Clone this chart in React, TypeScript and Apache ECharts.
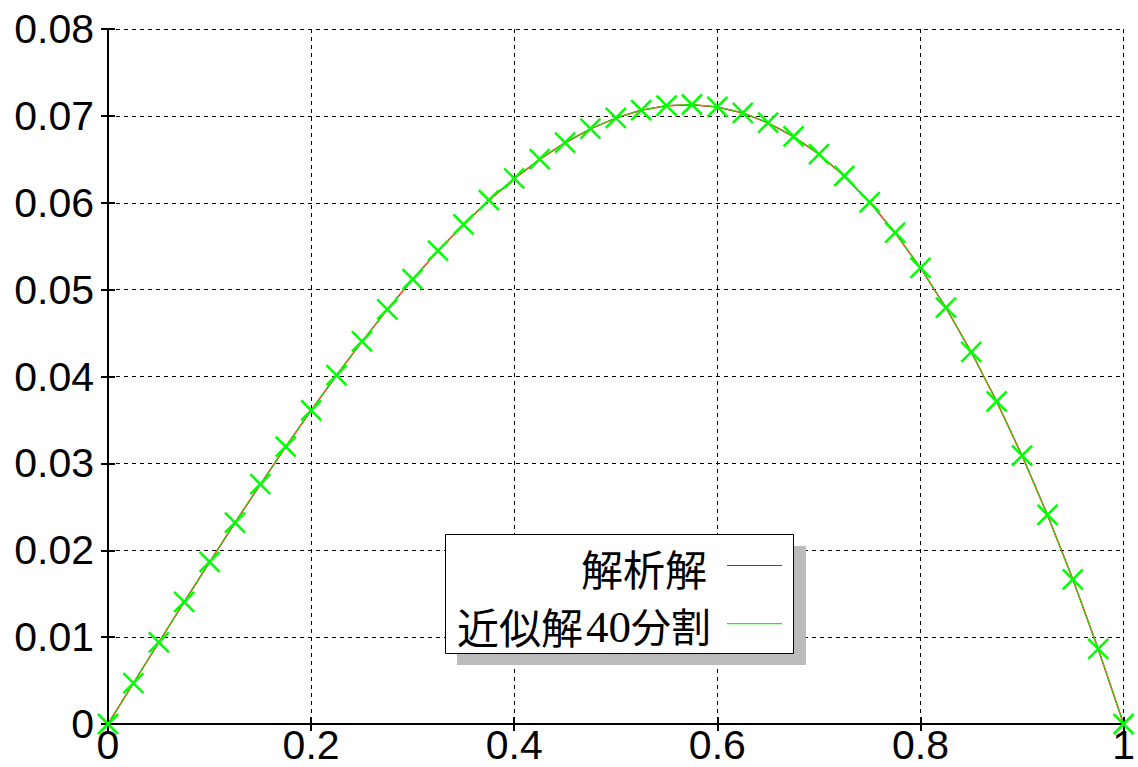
import React, { useEffect, useRef } from "react";
import * as echarts from "echarts";

const xValues = [
  0, 0.025, 0.05, 0.075, 0.1, 0.125, 0.15, 0.175, 0.2, 0.225, 0.25, 0.275, 0.3, 0.325, 0.35, 0.375, 0.4,
  0.425, 0.45, 0.475, 0.5, 0.525, 0.55, 0.575, 0.6, 0.625, 0.65, 0.675, 0.7, 0.725, 0.75, 0.775, 0.8,
  0.825, 0.85, 0.875, 0.9, 0.925, 0.95, 0.975, 1,
];

const analytic = [
  0, 0.004707, 0.009395, 0.014046, 0.018641, 0.023163, 0.027591, 0.031909, 0.036098, 0.040138, 0.044013,
  0.047705, 0.051194, 0.054464, 0.057497, 0.060275, 0.062782, 0.064998, 0.066909, 0.068498, 0.069746,
  0.070638, 0.071158, 0.07129, 0.071018, 0.070326, 0.0692, 0.067624, 0.065584, 0.063066, 0.060055,
  0.056538, 0.052501, 0.047932, 0.042817, 0.037144, 0.030901, 0.024076, 0.01666, 0.008637, 0,
];

const approx = [
  0, 0.00471, 0.0094, 0.01405, 0.01865, 0.02317, 0.0276, 0.03192, 0.03611, 0.04015, 0.04403, 0.04772,
  0.05121, 0.05448, 0.05751, 0.06029, 0.0628, 0.06501, 0.06693, 0.06852, 0.06976, 0.07066, 0.07118,
  0.07131, 0.07104, 0.07034, 0.06922, 0.06764, 0.0656, 0.06308, 0.06007, 0.05655, 0.05251, 0.04794,
  0.04283, 0.03715, 0.0309, 0.02408, 0.01666, 0.00864, 0,
];

const yTicks = { min: 0, max: 0.08, interval: 0.01 };
const xTicks = { min: 0, max: 1, interval: 0.2 };
const legendNames = ["解析解", "近似解40分割"];
const legendParts = ["近似解", "40", "分割"];

export default function App() {
  const ref = useRef<HTMLDivElement>(null);
  useEffect(() => {
    if (!ref.current) return;
    const chart = echarts.init(ref.current, null, { renderer: "svg" });
    const font = "'Liberation Sans', Arial, sans-serif";
    const cjk = "Noto Sans CJK JP";
    const serif = "Liberation Serif";
    const axisLine = { show: true, lineStyle: { color: "#000", width: 2 } };
    const tick = { show: true, inside: true, length: 7, lineStyle: { color: "#000", width: 2 } };
    const split = { show: true, lineStyle: { color: "#000", width: 1, type: [4, 4] } };
    chart.setOption({
      animation: false,
      backgroundColor: "#fff",
      grid: { left: 108, top: 29, right: 8, bottom: 43, containLabel: false },
      xAxis: [
        {
          type: "value",
          min: xTicks.min,
          max: xTicks.max,
          interval: xTicks.interval,
          axisLine,
          axisTick: tick,
          splitLine: split,
          axisLabel: {
            color: "#000",
            fontSize: 41,
            fontFamily: font,
            margin: 1,
            lineHeight: 40,
            formatter: (v: number) => String(Math.round(v * 10) / 10),
          },
        },
        {
          type: "value",
          position: "top",
          min: xTicks.min,
          max: xTicks.max,
          interval: xTicks.interval,
          axisLine,
          axisTick: tick,
          splitLine: { show: false },
          axisLabel: { show: false },
        },
      ],
      yAxis: [
        {
          type: "value",
          min: yTicks.min,
          max: yTicks.max,
          interval: yTicks.interval,
          axisLine,
          axisTick: tick,
          splitLine: split,
          axisLabel: {
            color: "#000",
            fontSize: 41,
            fontFamily: font,
            margin: 14,
            formatter: (v: number) => (v === 0 ? "0" : v.toFixed(2)),
          },
        },
        {
          type: "value",
          position: "right",
          min: yTicks.min,
          max: yTicks.max,
          interval: yTicks.interval,
          axisLine,
          axisTick: tick,
          splitLine: { show: false },
          axisLabel: { show: false },
        },
      ],
      series: [
        {
          name: legendNames[0],
          type: "line",
          data: xValues.map((x, i) => [x, analytic[i]]),
          showSymbol: false,
          symbol: "none",
          lineStyle: { color: "#ff0000", width: 1.5 },
          z: 3,
          clip: false,
        },
        {
          name: legendNames[1],
          type: "line",
          data: xValues.map((x, i) => [x, approx[i]]),
          symbol: "path://M0,0L20,20M20,0L0,20",
          symbolSize: 20,
          itemStyle: { color: "transparent", borderColor: "#00ff00", borderWidth: 2.5 },
          lineStyle: { color: "#00ff00", width: 1 },
          z: 4,
          clip: false,
        },
      ],
      graphic: [
        { type: "rect", shape: { x: 457, y: 546, width: 349, height: 119 }, style: { fill: "#bbbbbb" }, z: 50 },
        {
          type: "rect",
          shape: { x: 445.5, y: 534.5, width: 348, height: 119 },
          style: { fill: "#fff", stroke: "#000", lineWidth: 1 },
          z: 51,
        },
        {
          type: "text",
          x: 707,
          y: 567,
          z: 52,
          style: {
            text: legendNames[0],
            fontFamily: cjk,
            fontSize: 42,
            fill: "#000",
            align: "right",
            verticalAlign: "middle",
          },
        },
        {
          type: "text",
          x: 457,
          y: 625,
          z: 52,
          style: {
            text: legendParts[0],
            fontFamily: cjk,
            fontSize: 42,
            fill: "#000",
            align: "left",
            verticalAlign: "middle",
          },
        },
        {
          type: "text",
          x: 586,
          y: 627,
          z: 52,
          style: {
            text: legendParts[1],
            fontFamily: serif,
            fontSize: 45,
            fill: "#000",
            align: "left",
            verticalAlign: "middle",
          },
        },
        {
          type: "text",
          x: 631,
          y: 625,
          z: 52,
          style: {
            text: legendParts[2],
            fontFamily: cjk,
            fontSize: 40,
            fill: "#000",
            align: "left",
            verticalAlign: "middle",
          },
        },
        { type: "rect", shape: { x: 727, y: 565, width: 55, height: 1 }, style: { fill: "#ff0000" }, z: 52 },
        { type: "rect", shape: { x: 727, y: 623, width: 55, height: 1.2 }, style: { fill: "#00ff00" }, z: 52 },
      ],
    });
    return () => chart.dispose();
  }, []);
  return <div ref={ref} style={{ position: "fixed", left: 0, top: 0, width: 1138, height: 767 }} />;
}
